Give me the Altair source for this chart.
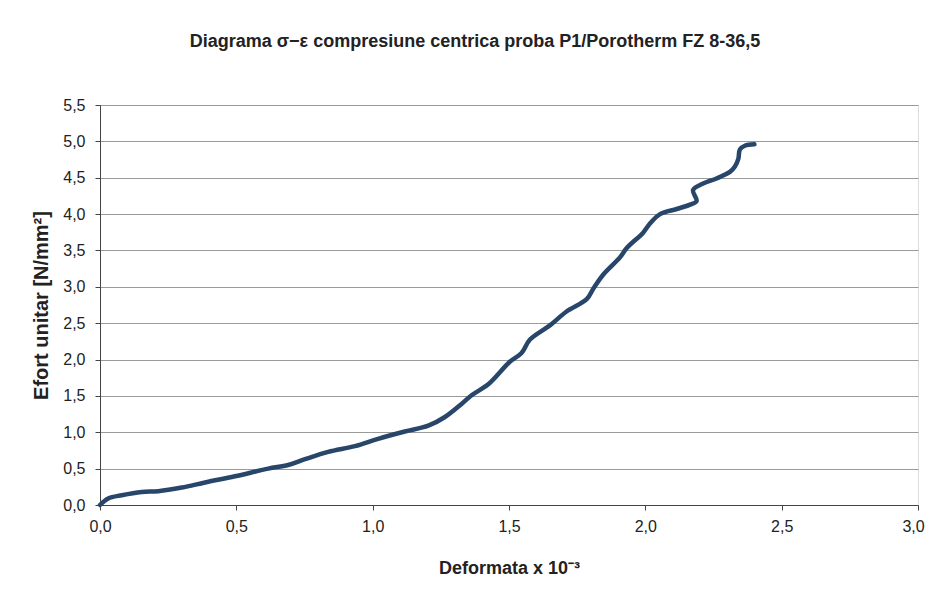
import altair as alt
import pandas as pd

# Deformation (x 10^-3) and unit stress (N/mm^2)
deformata = [0.0, 0.03, 0.08, 0.153, 0.214, 0.30, 0.385, 0.495, 0.617, 0.69, 0.752, 0.837,
             0.935, 1.02, 1.118, 1.204, 1.265, 1.326, 1.363, 1.424, 1.503, 1.546, 1.577,
             1.65, 1.711, 1.785, 1.81, 1.846, 1.907, 1.931, 1.992, 2.017, 2.054, 2.115,
             2.164, 2.188, 2.175, 2.212, 2.261, 2.31, 2.328, 2.341, 2.347, 2.365, 2.40]
efort = [0.0, 0.09, 0.135, 0.18, 0.19, 0.24, 0.31, 0.395, 0.50, 0.55, 0.63, 0.73,
         0.81, 0.91, 1.01, 1.09, 1.21, 1.39, 1.51, 1.66, 1.97, 2.09, 2.275,
         2.47, 2.66, 2.83, 2.98, 3.17, 3.405, 3.53, 3.745, 3.87, 4.00, 4.07,
         4.13, 4.18, 4.33, 4.42, 4.49, 4.58, 4.65, 4.76, 4.89, 4.94, 4.96]

x_ticks = [0.0, 0.5, 1.0, 1.5, 2.0, 2.5, 3.0]
y_ticks = [0.0, 0.5, 1.0, 1.5, 2.0, 2.5, 3.0, 3.5, 4.0, 4.5, 5.0, 5.5]

df = pd.DataFrame({"i": list(range(len(deformata))), "x": deformata, "y": efort})

FONT = "Liberation Sans"
label_expr = "replace(format(datum.value, '.1f'), '.', ',')"

chart = alt.Chart(df).mark_line(
    color="#27466a", strokeWidth=4.5, interpolate="catmull-rom", strokeCap="round", strokeJoin="round"
).encode(
    x=alt.X("x:Q", scale=alt.Scale(domain=[0, 3.0], nice=False),
            axis=alt.Axis(title="Deformata x 10⁻³", values=x_ticks, labelExpr=label_expr,
                          grid=False, tickSize=5, labelPadding=8, titlePadding=25,
                          labelOffset={"condition": {"test": "datum.value >= 3", "value": -5}, "value": 0},
                          labelFontSize=16, titleFontSize=18, titleFontWeight="bold",
                          labelFont=FONT, titleFont=FONT, labelColor="#222", titleColor="#222",
                          domainColor="#444", tickColor="#444", labelFlush=False)),
    y=alt.Y("y:Q", scale=alt.Scale(domain=[0, 5.5], nice=False),
            axis=alt.Axis(title="Efort unitar [N/mm²]", values=y_ticks, labelExpr=label_expr,
                          grid=True, gridColor="#9a9a9a", gridWidth=1, tickSize=5,
                          labelPadding=10, titlePadding=11,
                          labelFontSize=16, titleFontSize=20, titleFontWeight="bold",
                          labelFont=FONT, titleFont=FONT, labelColor="#222", titleColor="#222",
                          domainColor="#444", tickColor="#444")),
    order="i:Q",
).properties(
    width=818, height=400,
    padding={"left": 92, "top": 97, "right": 7, "bottom": 82},
    autosize=alt.AutoSizeParams(type="none"),
    title=alt.TitleParams("Diagrama σ−ε compresiune centrica proba P1/Porotherm FZ 8-36,5",
                          font=FONT, fontSize=18, fontWeight="bold", color="#222",
                          dx=-34, offset=46, anchor="middle"),
).configure_view(stroke="#666", strokeWidth=1).configure(background="white")

chart.save("out.html", embed_options={"renderer": "svg", "actions": False})
